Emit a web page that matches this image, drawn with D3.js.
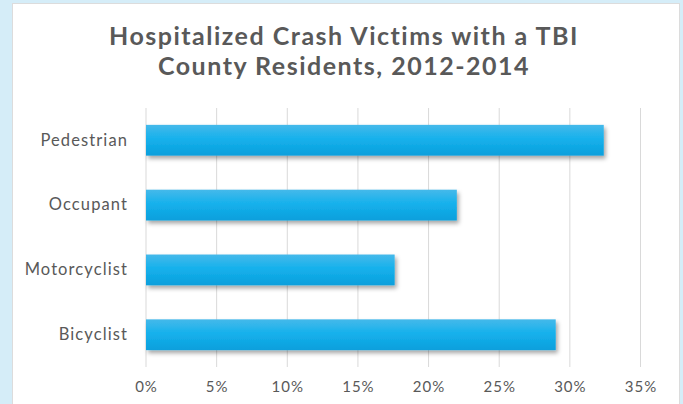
<!DOCTYPE html>
<html>
<head>
<meta charset="utf-8">
<script src="https://cdn.jsdelivr.net/npm/d3@7"></script>
<style>
  html, body { margin: 0; padding: 0; background: #d5edf8; }
  svg { display: block; }
</style>
</head>
<body>
<div id="chart"></div>
<script>
// data
var categories = ['Pedestrian', 'Occupant', 'Motorcyclist', 'Bicyclist'];
var values = [32.4, 22.0, 17.6, 29.0];
var ticks = [0, 5, 10, 15, 20, 25, 30, 35];
var titleLines = ['Hospitalized Crash Victims with a TBI', 'County Residents, 2012-2014'];

var width = 683, height = 404;
var font = "'Lato', 'Open Sans', sans-serif";

var svg = d3.select('#chart')
    .append('svg')
    .attr('width', width)
    .attr('height', height)

var defs = svg.append('defs')

var grad = defs.append('linearGradient')
    .attr('id', 'barGrad')
    .attr('x1', 0).attr('y1', 0).attr('x2', 0).attr('y2', 1)
grad.append('stop').attr('offset', '0%').attr('stop-color', '#45b9ea')
grad.append('stop').attr('offset', '45%').attr('stop-color', '#16b1ec')
grad.append('stop').attr('offset', '100%').attr('stop-color', '#0a9fdc')

var shadow = defs.append('filter')
    .attr('id', 'shadow')
    .attr('x', '-5%').attr('y', '-20%').attr('width', '115%').attr('height', '160%')
shadow.append('feDropShadow')
    .attr('dx', 2).attr('dy', 3)
    .attr('stdDeviation', 2)
    .attr('flood-color', '#000')
    .attr('flood-opacity', 0.35)

// white panel
svg.append('rect')
    .attr('x', 12.5).attr('y', 3.5)
    .attr('width', 667).attr('height', 420)
    .attr('fill', '#fff')
    .attr('stroke', '#dcdcdc')

// title
svg.selectAll('.title')
    .data(titleLines)
    .enter()
    .append('text')
    .attr('class', 'title')
    .attr('x', 344)
    .attr('y', (d, i) => 45 + i * 30)
    .attr('text-anchor', 'middle')
    .attr('fill', '#595959')
    .style('font-family', font)
    .style('font-weight', '700')
    .style('font-size', '25px')
    .style('letter-spacing', '1.5px')
    .text(d => d)

var margin = {left: 146, right: 683 - 640.5, top: 108, bottom: 404 - 367};

var x = d3.scaleLinear()
    .domain([0, 35])
    .range([margin.left, width - margin.right])

var y = d3.scaleBand()
    .domain(categories)
    .range([margin.top, height - margin.bottom])
    .paddingInner(0.525)
    .paddingOuter(0.26)

// gridlines
svg.append('g')
    .selectAll('line')
    .data(ticks)
    .enter()
    .append('line')
    .attr('x1', d => x(d)).attr('x2', d => x(d))
    .attr('y1', margin.top).attr('y2', height - margin.bottom)
    .attr('stroke', '#d9d9d9')
    .attr('stroke-width', 1)

// x axis labels
var xaxis = d3.axisBottom(x)
    .tickValues(ticks)
    .tickFormat(d => d + '%')
    .tickSize(0)
    .tickPadding(14)

var gx = svg.append('g')
    .attr('transform', 'translate(0,' + (height - margin.bottom) + ')')
    .call(xaxis)
gx.select('.domain').remove()
gx.selectAll('text')
    .attr('fill', '#595959')
    .style('font-family', font)
    .style('font-size', '15px')
    .style('letter-spacing', '1px')

// y axis labels
var yaxis = d3.axisLeft(y)
    .tickSize(0)
    .tickPadding(18)

var gy = svg.append('g')
    .attr('transform', 'translate(' + margin.left + ',0)')
    .call(yaxis)
gy.select('.domain').remove()
gy.selectAll('text')
    .attr('fill', '#595959')
    .style('font-family', font)
    .style('font-size', '16.5px')
    .style('letter-spacing', '1.1px')

// bars
svg.append('g')
    .selectAll('rect')
    .data(categories)
    .enter()
    .append('rect')
    .attr('x', x(0))
    .attr('y', d => y(d))
    .attr('width', (d, i) => x(values[i]) - x(0))
    .attr('height', y.bandwidth())
    .attr('fill', 'url(#barGrad)')
    .attr('filter', 'url(#shadow)')
</script>
</body>
</html>
